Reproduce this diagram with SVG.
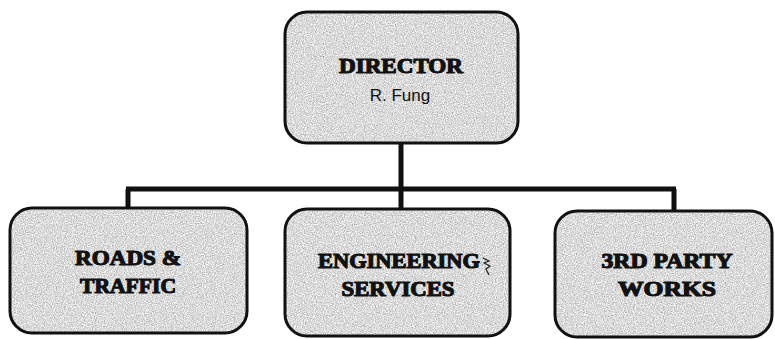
<svg xmlns="http://www.w3.org/2000/svg" width="775" height="339" viewBox="0 0 775 339">
<style>
.bg{fill:#d8d8d8;filter:url(#grain)}
.box{fill:none;stroke:#111;stroke-width:3}
.t{font-family:"Liberation Serif","Times New Roman",serif;font-weight:bold;font-size:20px;fill:#111;stroke:#111;stroke-width:1.1;text-anchor:middle}
.s{font-family:"Liberation Sans",Arial,sans-serif;font-size:17px;fill:#111;text-anchor:middle}
.ln{fill:none;stroke:#111;stroke-width:5}
</style>
<defs>
<filter id="grain" x="0" y="0" width="100%" height="100%" color-interpolation-filters="sRGB">
<feTurbulence type="fractalNoise" baseFrequency="0.9" numOctaves="2" seed="4" result="n"/>
<feColorMatrix in="n" type="matrix" values="0.55 0 0 0 0.58  0.55 0 0 0 0.58  0.55 0 0 0 0.58  0 0 0 0 1" result="g"/>
<feComposite in="g" in2="SourceGraphic" operator="in"/>
</filter>
</defs>
<rect width="775" height="339" fill="#fff"/>
<g id="connectors">
<path class="ln" d="M401 143 V189 M126 189 H676 M128 189 V208 M401 189 V209 M674 189 V211"/>
</g>
<g id="director">
<rect class="bg" x="285" y="12" width="233" height="131" rx="22"/>
<rect class="box" x="285" y="12" width="233" height="131" rx="22"/>
<text class="t" x="401" y="73" textLength="124" lengthAdjust="spacingAndGlyphs">DIRECTOR</text>
<text class="s" x="400" y="101">R. Fung</text>
</g>
<g id="roads">
<rect class="bg" x="10" y="208" width="237" height="125" rx="22"/>
<rect class="box" x="10" y="208" width="237" height="125" rx="22"/>
<text class="t" x="128" y="265" textLength="106" lengthAdjust="spacingAndGlyphs">ROADS &amp;</text>
<text class="t" x="128" y="293" textLength="96" lengthAdjust="spacingAndGlyphs">TRAFFIC</text>
</g>
<g id="engineering">
<rect class="bg" x="285" y="209" width="225" height="127" rx="22"/>
<rect class="box" x="285" y="209" width="225" height="127" rx="22"/>
<text class="t" x="399" y="268" textLength="162" lengthAdjust="spacingAndGlyphs">ENGINEERING</text>
<text class="t" x="398" y="296" textLength="113" lengthAdjust="spacingAndGlyphs">SERVICES</text>
<path d="M483 258 l6 3 l-5 2 l6 3 l-4 3 l3 6" fill="none" stroke="#222" stroke-width="1.2"/>
</g>
<g id="thirdparty">
<rect class="bg" x="555" y="211" width="217" height="126" rx="22"/>
<rect class="box" x="555" y="211" width="217" height="126" rx="22"/>
<text class="t" x="667" y="268" textLength="131" lengthAdjust="spacingAndGlyphs">3RD PARTY</text>
<text class="t" x="667" y="296" textLength="98" lengthAdjust="spacingAndGlyphs">WORKS</text>
</g>
</svg>
